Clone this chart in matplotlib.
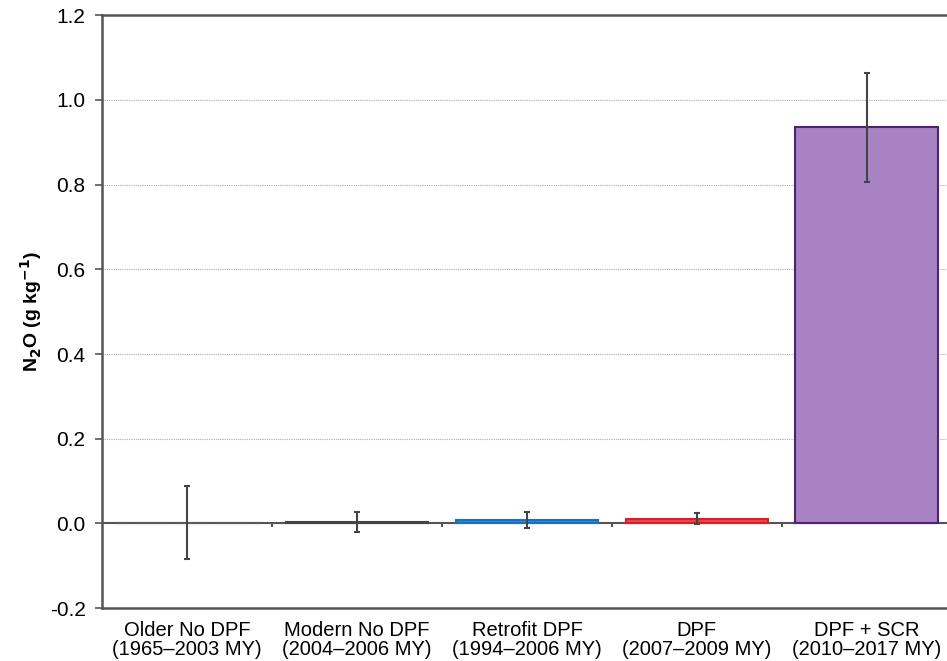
import matplotlib.pyplot as plt
import numpy as np

plt.rcParams['font.family'] = ['Liberation Sans', 'DejaVu Sans']

categories = ['Older No DPF\n(1965\u20132003 MY)', 'Modern No DPF\n(2004\u20132006 MY)',
              'Retrofit DPF\n(1994\u20132006 MY)', 'DPF\n(2007\u20132009 MY)',
              'DPF + SCR\n(2010\u20132017 MY)']
n2o = [0.002, 0.004, 0.008, 0.011, 0.935]
n2o_err = [0.087, 0.024, 0.019, 0.013, 0.128]
fill_colors = ['#5a5a5a', '#444444', '#2f86d8', '#e8474c', '#a883c4']
edge_colors = ['#5a5a5a', '#444444', '#1e6fc0', '#d4202a', '#4e2270']

fig = plt.figure(figsize=(9.47, 6.61), dpi=100)
ax = fig.add_axes([0.108, 0.08, 0.897, 0.897])

x = np.arange(len(categories))
ax.bar(x, n2o, width=0.84, color=fill_colors, edgecolor=edge_colors, linewidth=1.5, zorder=3)
ax.errorbar(x, n2o, yerr=n2o_err, fmt='none', ecolor='#444444', elinewidth=1.5,
            capsize=2.5, capthick=1.5, zorder=4)

# zero line with small ticks between categories
ax.axhline(0, color='#555555', linewidth=1.5, zorder=2)
bounds = x[:-1] + 0.5
ax.vlines(bounds, -0.008, 0, color='#555555', linewidth=1.5, zorder=2)

ax.set_xlim(-0.5, len(categories) - 0.5)
ax.set_ylim(-0.2, 1.2)
ax.set_yticks(np.arange(-0.2, 1.21, 0.2))
ax.set_yticklabels(['-0.2', '0.0', '0.2', '0.4', '0.6', '0.8', '1.0', '1.2'])
ax.set_xticks(x)
ax.set_xticklabels(categories, fontsize=14.5, linespacing=1.0)
ax.tick_params(axis='x', length=0, pad=9)
ax.tick_params(axis='y', labelsize=15, length=5, width=1.2, color='#555555', pad=7)

ax.yaxis.grid(True, linestyle=(0, (1, 1)), color='#aaaaaa', linewidth=0.8)
ax.set_axisbelow(True)

for side in ['left', 'top', 'bottom']:
    ax.spines[side].set_color('#555555')
    ax.spines[side].set_linewidth(1.8)
ax.spines['right'].set_visible(False)

ax.set_ylabel('N$_\\mathbf{2}$O (g kg$^{\\mathbf{-1}}$)', fontsize=14, fontweight='bold', labelpad=4)

fig.savefig('out.png', dpi=100)
